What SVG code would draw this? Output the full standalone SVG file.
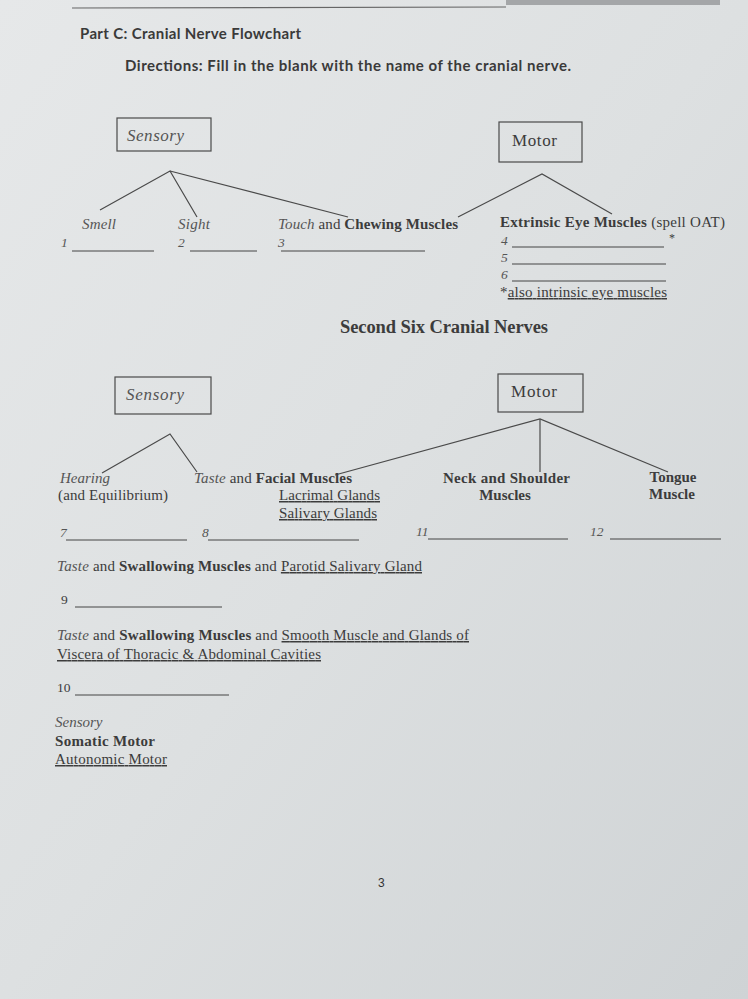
<svg xmlns="http://www.w3.org/2000/svg" width="748" height="999" viewBox="0 0 748 999">
<defs>
<linearGradient id="paper" x1="0" y1="0" x2="1" y2="1">
<stop offset="0" stop-color="#e6e8e9"/>
<stop offset="0.5" stop-color="#dde0e1"/>
<stop offset="1" stop-color="#cfd3d5"/>
</linearGradient>
<style>
.s{font-family:"Liberation Serif","Times New Roman",serif;fill:#3c3c3c;font-size:15px}
.big{font-size:18.5px}
.bx{font-size:17px}
.n{font-size:13.5px}
.i{font-style:italic;fill:#555}
.b{font-weight:bold}
.u{text-decoration:underline}
.h{font-family:Lato,"Open Sans",sans-serif;font-weight:bold;fill:#3a3a3a;font-size:15px}
.box{fill:none;stroke:#4a4a4a;stroke-width:1.2}
.ln{stroke:#4a4a4a;stroke-width:1.2;fill:none}
.bl{stroke:#444;stroke-width:1;fill:none}
</style>
</defs>
<rect width="748" height="999" fill="url(#paper)"/>
<rect x="506" y="0" width="214" height="5" fill="#a4a6a8"/>
<line x1="72" y1="8" x2="506" y2="7" stroke="#666" stroke-width="1.2"/>

<text class="h" x="80" y="39" textLength="221">Part C: Cranial Nerve Flowchart</text>
<text class="h" x="125" y="71" textLength="446">Directions: Fill in the blank with the name of the cranial nerve.</text>

<g id="connectors">
<polyline class="ln" points="100,210 170,171 197,217"/>
<line class="ln" x1="170" y1="171" x2="348" y2="217"/>
<polyline class="ln" points="458,217 542,174 612,214"/>
<polyline class="ln" points="102,473 170,434 197,472"/>
<polyline class="ln" points="335,475 540,419 668,472"/>
<line class="ln" x1="540" y1="419" x2="540" y2="472"/>
</g>

<g id="sensory1"><rect class="box" x="117" y="118" width="94" height="33"/><text class="s bx i" x="127" y="141" textLength="57">Sensory</text></g>
<g id="motor1"><rect class="box" x="499" y="122" width="83" height="40"/><text class="s bx" x="512" y="146" textLength="45">Motor</text></g>

<g id="smell"><text class="s i" x="82" y="229" textLength="34">Smell</text><text class="s n i" x="61" y="247">1</text><line class="bl" x1="72" y1="251" x2="154" y2="251"/></g>
<g id="sight"><text class="s i" x="178" y="229" textLength="32">Sight</text><text class="s n i" x="178" y="247">2</text><line class="bl" x1="190" y1="251" x2="257" y2="251"/></g>
<g id="touch"><text class="s" x="278" y="229" textLength="180"><tspan class="i">Touch</tspan> and <tspan class="b">Chewing Muscles</tspan></text><text class="s n i" x="278" y="247">3</text><line class="bl" x1="281" y1="251" x2="425" y2="251"/></g>
<g id="eye"><text class="s" x="500" y="227" textLength="225"><tspan class="b">Extrinsic Eye Muscles</tspan> (spell OAT)</text>
<text class="s n i" x="501" y="245">4</text><line class="bl" x1="512" y1="247" x2="664" y2="247"/><text class="s" x="669" y="242" style="font-size:12px">*</text>
<text class="s n i" x="501" y="262">5</text><line class="bl" x1="512" y1="264" x2="666" y2="264"/>
<text class="s n i" x="501" y="279">6</text><line class="bl" x1="512" y1="281" x2="666" y2="281"/>
<text class="s" x="500" y="297" textLength="167">*<tspan class="u">also intrinsic eye muscles</tspan></text></g>

<text class="s big b" x="340" y="333" textLength="208">Second Six Cranial Nerves</text>

<g id="sensory2"><rect class="box" x="115" y="377" width="96" height="37"/><text class="s bx i" x="126" y="400" textLength="58">Sensory</text></g>
<g id="motor2"><rect class="box" x="498" y="374" width="85" height="38"/><text class="s bx" x="511" y="397" textLength="46">Motor</text></g>

<g id="hearing"><text class="s i" x="60" y="483" textLength="50">Hearing</text><text class="s" x="58" y="500" textLength="110">(and Equilibrium)</text><text class="s n i" x="60" y="537">7</text><line class="bl" x1="66" y1="540" x2="187" y2="540"/></g>
<g id="taste"><text class="s" x="194" y="483" textLength="158"><tspan class="i">Taste</tspan> and <tspan class="b">Facial Muscles</tspan></text>
<text class="s u" x="279" y="500" textLength="101">Lacrimal Glands</text><text class="s u" x="279" y="518" textLength="98">Salivary Glands</text>
<text class="s n i" x="202" y="537">8</text><line class="bl" x1="208" y1="540" x2="359" y2="540"/></g>
<g id="neck"><text class="s b" x="443" y="483" textLength="127">Neck and Shoulder</text><text class="s b" x="505" y="500" text-anchor="middle">Muscles</text>
<text class="s n i" x="416" y="536">11</text><line class="bl" x1="428" y1="539" x2="568" y2="539"/></g>
<g id="tongue"><text class="s b" x="673" y="482" text-anchor="middle">Tongue</text><text class="s b" x="672" y="499" text-anchor="middle">Muscle</text>
<text class="s n i" x="590" y="536">12</text><line class="bl" x1="610" y1="539" x2="721" y2="539"/></g>

<g id="ninth"><text class="s" x="57" y="571" textLength="365"><tspan class="i">Taste</tspan> and <tspan class="b">Swallowing Muscles</tspan> and <tspan class="u">Parotid Salivary Gland</tspan></text>
<text class="s n" x="61" y="604">9</text><line class="bl" x1="75" y1="607" x2="222" y2="607"/></g>
<g id="tenth"><text class="s" x="57" y="640" textLength="412"><tspan class="i">Taste</tspan> and <tspan class="b">Swallowing Muscles</tspan> and <tspan class="u">Smooth Muscle and Glands of</tspan></text>
<text class="s u" x="57" y="659" textLength="264">Viscera of Thoracic &amp; Abdominal Cavities</text>
<text class="s n" x="57" y="692">10</text><line class="bl" x1="75" y1="695" x2="229" y2="695"/></g>

<g id="legend"><text class="s i" x="55" y="727">Sensory</text><text class="s b" x="55" y="746" textLength="100">Somatic Motor</text><text class="s u" x="55" y="764" textLength="112">Autonomic Motor</text></g>

<text x="378" y="887" font-family="'Liberation Sans',Arial,sans-serif" font-size="12" fill="#333">3</text>
</svg>
